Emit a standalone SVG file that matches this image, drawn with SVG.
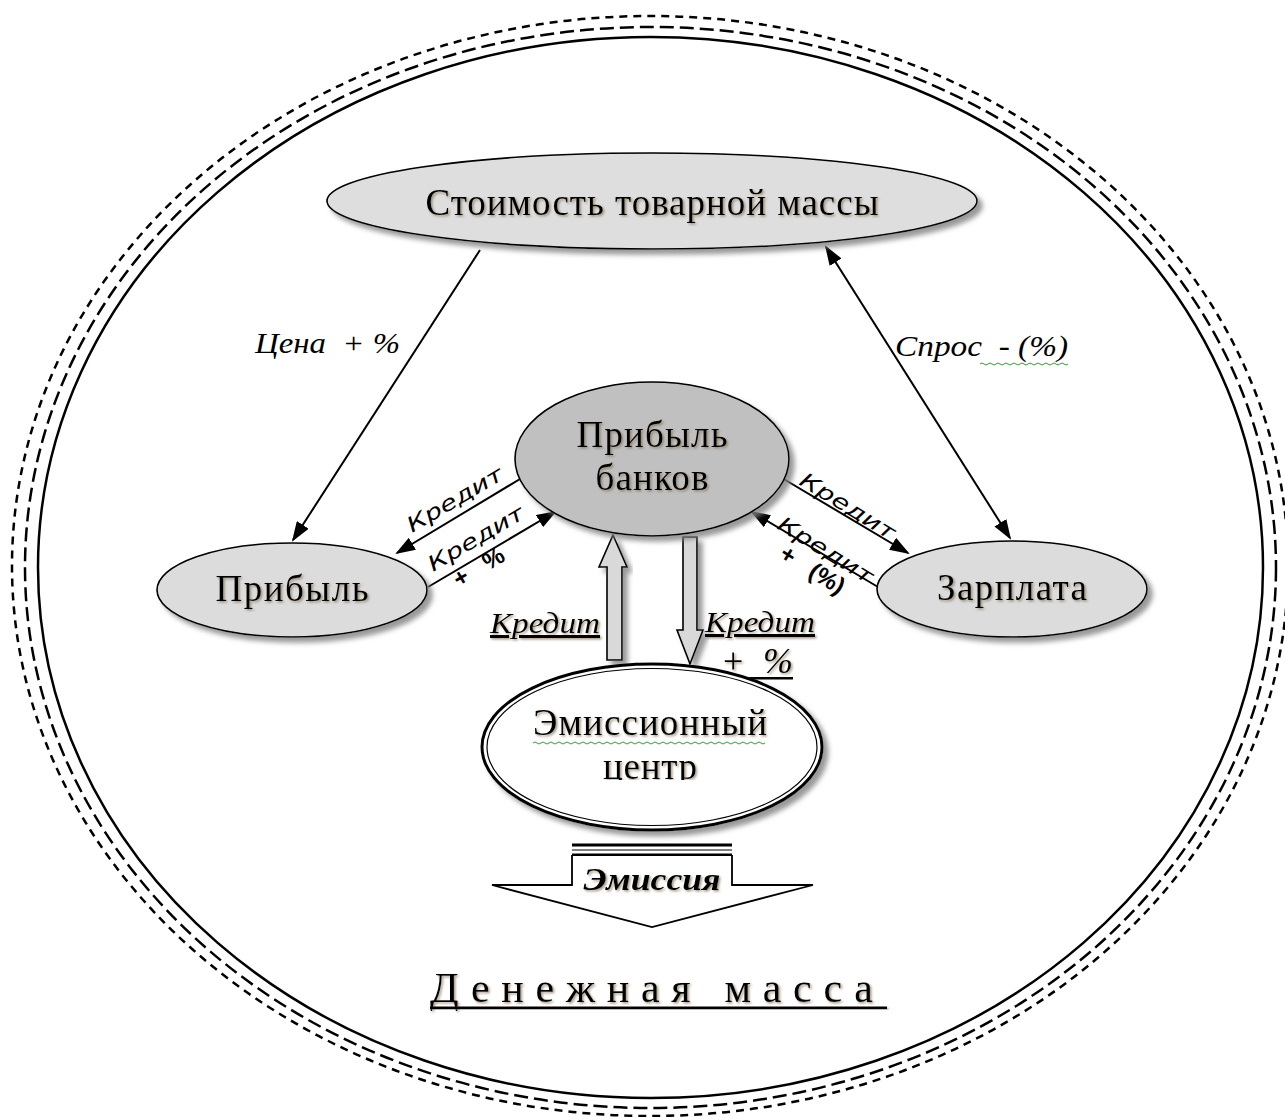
<svg xmlns="http://www.w3.org/2000/svg" width="1285" height="1117" viewBox="0 0 1285 1117">
<style>
.bg{fill:#ffffff}
.ring{fill:none;stroke:#000;stroke-width:2.5}
.node{stroke:#000;stroke-width:1.6}
.ntext{font-family:"Liberation Serif","Times New Roman",serif;font-size:37px;fill:#000;text-anchor:middle}
.lab{font-family:"Liberation Serif","Times New Roman",serif;font-style:italic;font-size:30px;fill:#000;white-space:pre}
.klab{font-family:"DejaVu Sans","Liberation Sans",sans-serif;font-style:italic;font-size:21px;fill:#000}
.kbold{font-family:"Liberation Sans",sans-serif;font-weight:bold;font-size:24px;fill:#000;white-space:pre}
.conn{stroke:#000;stroke-width:2;fill:none}
.block{fill:#d9d9d9;stroke:#000;stroke-width:1.6}
.wavy{fill:none;stroke:#3a9a3a;stroke-width:1}
</style>
<defs>
<marker id="ah" markerUnits="userSpaceOnUse" markerWidth="20" markerHeight="14" refX="18" refY="7" orient="auto-start-reverse" viewBox="0 0 20 14">
<path d="M0,0 L20,7 L0,14 z" fill="#000"/>
</marker>
<filter id="sh" x="-10%" y="-10%" width="130%" height="130%">
<feDropShadow dx="5" dy="5" stdDeviation="2.5" flood-color="#808080" flood-opacity="0.8"/>
</filter>
<filter id="tsh" x="-5%" y="-20%" width="115%" height="150%">
<feDropShadow dx="1.5" dy="1.5" stdDeviation="0.8" flood-color="#7a6a50" flood-opacity="0.7"/>
</filter>
<clipPath id="emclip"><rect x="470" y="650" width="360" height="130"/></clipPath>
</defs>
<rect class="bg" x="0" y="0" width="1285" height="1117"/>

<g id="outer-rings">
<ellipse class="ring" cx="650" cy="566" rx="638" ry="550" stroke-dasharray="8 6"/>
<ellipse class="ring" cx="650.5" cy="567.5" rx="625.5" ry="540.5" stroke-dasharray="14 6" stroke-width="2.8"/>
<ellipse class="ring" cx="650.5" cy="567.5" rx="612.5" ry="530.5"/>
</g>

<g id="connectors">
<line class="conn" x1="480" y1="250" x2="293" y2="540" marker-end="url(#ah)"/>
<line class="conn" x1="826" y1="247" x2="1010" y2="538" marker-start="url(#ah)" marker-end="url(#ah)"/>
<line class="conn" x1="520" y1="479" x2="397" y2="553" marker-end="url(#ah)"/>
<line class="conn" x1="428" y1="587" x2="555" y2="512" marker-end="url(#ah)"/>
<line class="conn" x1="782" y1="478" x2="908" y2="553" marker-end="url(#ah)"/>
<line class="conn" x1="878" y1="587" x2="752" y2="512" marker-end="url(#ah)"/>
<g id="up-arrow" filter="url(#sh)">
<path class="block" d="M607,660 L607,567 L599,567 L613,535 L627,567 L622,567 L622,660 Z"/>
</g>
<g id="down-arrow" filter="url(#sh)">
<path class="block" d="M683,537 L697,537 L697,630 L703,630 L690,664 L677,630 L683,630 Z"/>
</g>
<text class="lab" x="255" y="353" textLength="145" lengthAdjust="spacingAndGlyphs">Цена  + %</text>
<text class="lab" x="895" y="356" textLength="173" lengthAdjust="spacingAndGlyphs">Спрос  - (%)</text>
<path class="wavy" d="M980,364 q2,-2 4,0 t4,0 t4,0 t4,0 t4,0 t4,0 t4,0 t4,0 t4,0 t4,0 t4,0 t4,0 t4,0 t4,0 t4,0 t4,0 t4,0 t4,0 t4,0 t4,0 t4,0 t4,0"/>
<text class="klab" x="412" y="533" textLength="108" lengthAdjust="spacingAndGlyphs" transform="rotate(-30.5 412 533)">Кредит</text>
<text class="klab" x="433" y="572" textLength="108" lengthAdjust="spacingAndGlyphs" transform="rotate(-30.5 433 572)">Кредит</text>
<text class="kbold" x="459" y="588" transform="rotate(-30.5 459 588)">+   %</text>
<text class="klab" x="798" y="484" textLength="108" lengthAdjust="spacingAndGlyphs" transform="rotate(31.5 798 484)">Кредит</text>
<text class="klab" x="776" y="528" textLength="108" lengthAdjust="spacingAndGlyphs" transform="rotate(31.5 776 528)">Кредит</text>
<text class="kbold" x="778" y="558" transform="rotate(31.5 778 558)">+   (%)</text>
<g filter="url(#tsh)">
<text class="lab" x="490" y="633" textLength="110" lengthAdjust="spacingAndGlyphs" text-decoration="underline">Кредит</text>
<text class="lab" x="705" y="632" textLength="110" lengthAdjust="spacingAndGlyphs" text-decoration="underline">Кредит</text>
<text class="lab" x="723" y="673" style="font-size:36px;font-style:normal">+</text>
<text class="lab" x="763" y="673" style="font-size:36px">%</text>
</g>
<rect x="725" y="677" width="68" height="2.5" fill="#000"/>
</g>

<g id="node-stoimost">
<ellipse class="node" cx="652" cy="201" rx="325" ry="48" fill="#dedede" filter="url(#sh)"/>
<text class="ntext" x="652" y="215" textLength="453" filter="url(#tsh)">Стоимость товарной массы</text>
</g>

<g id="node-pribyl-bankov">
<ellipse class="node" cx="652" cy="459" rx="137" ry="77" fill="#c0c0c0" filter="url(#sh)"/>
<text class="ntext" x="652" y="447" textLength="151" filter="url(#tsh)">Прибыль</text>
<text class="ntext" x="652" y="490" textLength="113" filter="url(#tsh)">банков</text>
</g>

<g id="node-pribyl">
<ellipse class="node" cx="292" cy="590" rx="135" ry="47" fill="#dcdcdc" filter="url(#sh)"/>
<text class="ntext" x="292" y="601" textLength="153" filter="url(#tsh)">Прибыль</text>
</g>

<g id="node-zarplata">
<ellipse class="node" cx="1012" cy="589" rx="135" ry="48" fill="#dcdcdc" filter="url(#sh)"/>
<text class="ntext" x="1012" y="600" textLength="150" filter="url(#tsh)">Зарплата</text>
</g>

<g id="node-emission-center">
<ellipse cx="652" cy="747" rx="170" ry="83" fill="#fff" stroke="#000" stroke-width="3" filter="url(#sh)"/>
<ellipse cx="652" cy="747" rx="165" ry="78.5" fill="none" stroke="#000" stroke-width="1.2"/>
<g clip-path="url(#emclip)" filter="url(#tsh)">
<text class="ntext" x="650" y="735" textLength="234">Эмиссионный</text>
<text class="ntext" x="650" y="779" textLength="94">центр</text>
</g>
<path class="wavy" d="M533,743 q2,-2 4,0 t4,0 t4,0 t4,0 t4,0 t4,0 t4,0 t4,0 t4,0 t4,0 t4,0 t4,0 t4,0 t4,0 t4,0 t4,0 t4,0 t4,0 t4,0 t4,0 t4,0 t4,0 t4,0 t4,0 t4,0 t4,0 t4,0 t4,0 t4,0 t4,0 t4,0 t4,0 t4,0 t4,0 t4,0 t4,0 t4,0 t4,0 t4,0 t4,0 t4,0 t4,0 t4,0 t4,0 t4,0 t4,0 t4,0 t4,0 t4,0 t4,0 t4,0 t4,0 t4,0 t4,0 t4,0 t4,0 t4,0 t4,0"/>
</g>

<g id="node-emissiya">
<path d="M572,855 L572,885 L492,885 L652,927 L813,885 L732,885 L732,855" fill="#fff" stroke="#000" stroke-width="1.8"/>
<rect x="572" y="843.5" width="160" height="3" fill="#000"/>
<rect x="572" y="849.5" width="160" height="1" fill="#000"/>
<rect x="572" y="853.5" width="160" height="2.5" fill="#000"/>
<text x="652" y="890" text-anchor="middle" font-family="Liberation Serif,serif" font-style="italic" font-weight="bold" font-size="31" textLength="137" lengthAdjust="spacingAndGlyphs" filter="url(#tsh)">Эмиссия</text>
</g>

<g id="node-denezhnaya-massa">
<text x="430" y="1002" font-family="Liberation Serif,serif" font-size="42" textLength="443" lengthAdjust="spacing" filter="url(#tsh)">Денежная масса</text>
<rect x="430" y="1006.5" width="457" height="2.5" fill="#000" filter="url(#tsh)"/>
</g>
</svg>
